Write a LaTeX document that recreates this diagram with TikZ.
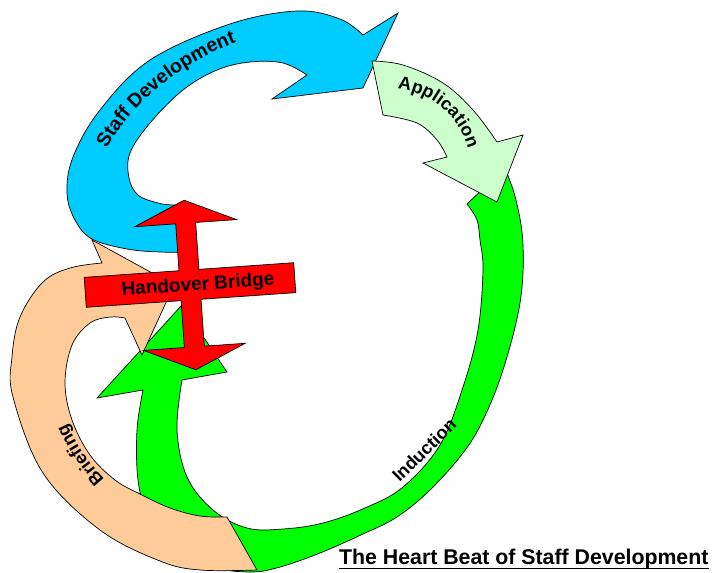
\documentclass[tikz,border=0pt]{standalone}
\usepackage{fontspec}
\setmainfont{Liberation Sans}
\usetikzlibrary{decorations.text}
\definecolor{sdblue}{HTML}{00CCFF}
\definecolor{applight}{HTML}{CCFFCC}
\definecolor{indgreen}{HTML}{00FF00}
\definecolor{briefpeach}{HTML}{FFCC99}
\definecolor{bridgered}{HTML}{FF0000}
\newcommand\lblfont{\fontsize{18}{18}\selectfont\bfseries}
\newcommand\biglblfont{\fontsize{19.5}{19.5}\selectfont\bfseries}
\tikzset{
  band/.style={draw=black, line width=0.7pt, line join=miter},
  curvelabel/.style={decorate, decoration={text along path, text align=center,
      text format delimiters={|}{|}, text={|\lblfont|#1}}},
  bigcurvelabel/.style={decorate, decoration={text along path, text align=center,
      text format delimiters={|}{|}, text={|\biglblfont|#1}}}
}
\begin{document}
\begin{tikzpicture}[x=1pt,y=-1pt]
\useasboundingbox (0,0) rectangle (715,573);

% Induction: the large green loop
\path[band, fill=indgreen] (467,204) -- (505,168)
  -- plot[smooth, tension=0.6] coordinates {(505,168) (516,200) (523,245) (520,303) (503,370) (483,420) (463,453) (430,490) (397,517) (363,534) (320,553) (280,567) (250,572) (210,566) (172,542) (148,515) (138,480) (137,430) (143,390)}
  -- (97,398) -- (182,305) -- (227,372) -- (182,380)
  -- plot[smooth, tension=0.6] coordinates {(182,380) (177,430) (187,477) (213,510) (247,528) (283,529) (323,523) (365,508) (403,487) (440,445) (463,387) (478,330) (483,270) (480,240) (477,220) (467,204)}
  -- cycle;

% Briefing: peach arrow on the left
\path[band, fill=briefpeach] (227,517) -- (257,570)
  -- plot[smooth, tension=0.6] coordinates {(257,570) (200,570) (160,561) (100,530) (43,473) (13,397) (12,357) (20,317) (43,282) (70,268) (102,263)}
  -- (92,240) -- (174,285) -- (142,355) -- (125,318)
  -- plot[smooth, tension=0.6] coordinates {(125,318) (110,317) (90,323) (72,345) (65,383) (72,420) (90,455) (115,480) (140,494) (170,508) (200,516) (227,517)}
  -- cycle;

% Staff Development: blue arrow at the top
\path[band, fill=sdblue] (398,13) -- (363,35)
  -- plot[smooth, tension=0.6] coordinates {(363,35) (340,19) (297,11) (230,24) (150,60) (100,110) (73,157) (67,193) (75,220) (92,239) (127,249) (160,252) (188,252)}
  -- (186,205)
  -- plot[smooth, tension=0.6] coordinates {(186,205) (173,205) (158,203) (138,195) (129,178) (130,153) (150,123) (183,90) (217,70) (250,62) (283,63) (307,75)}
  -- (272,99) -- (363,88) -- cycle;

% Application: pale green arrow
\path[band, fill=applight] (372,61) -- (383,115)
  -- plot[smooth, tension=0.6] coordinates {(383,115) (417,123) (437,140) (447,157)}
  -- (423,163) -- (497,202) -- (523,135) -- (497,142)
  -- plot[smooth, tension=0.6] coordinates {(497,142) (473,110) (443,83) (403,65) (372,61)}
  -- cycle;

% Curved labels
\path[bigcurvelabel={Staff Development}] (100,164) .. controls (116,120) and (175,58) .. (252,38);
\path[curvelabel={Application}] (376,90) .. controls (426,81) and (471,120) .. (471,170);
\path[curvelabel={Briefing}] (122,497) .. controls (90,468) and (68,435) .. (58,400);
\node[rotate=44.5, inner sep=0, font=\lblfont] (induction) at (424,450) {Induction};

% Handover Bridge: red double arrow with cross bar
\begin{scope}[shift={(190,285)}, rotate=4]
  \path[band, fill=bridgered] (0,-85) -- (51,-62) -- (10,-62) -- (10,-15) -- (105,-15) -- (105,15)
    -- (10,15) -- (10,62) -- (51,62) -- (0,85) -- (-51,62) -- (-10,62) -- (-10,15)
    -- (-105,15) -- (-105,-15) -- (-10,-15) -- (-10,-62) -- (-51,-62) -- cycle;
  \node[inner sep=0, transform shape, font=\fontsize{19}{19}\selectfont\bfseries] (bridge) at (8,1) {Handover Bridge};
\end{scope}

% Title
\node[anchor=base west, inner sep=0, font=\fontsize{21.3}{21.3}\selectfont\bfseries] (title) at (339,564) {The Heart Beat of Staff Development};
\draw[line width=1.6pt] ([yshift=-4.5pt]title.base west) -- ([yshift=-4.5pt]title.base east);
\end{tikzpicture}
\end{document}
